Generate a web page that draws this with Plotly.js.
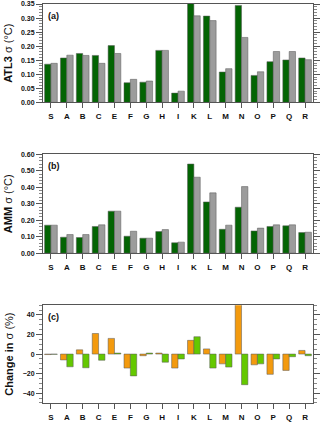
<!DOCTYPE html>
<html>
<head>
<meta charset="utf-8">
<script src="https://cdn.plot.ly/plotly-3.0.1.min.js"></script>
<style>
  html, body { margin: 0; padding: 0; background: #fff; }
  #chart { width: 320px; height: 423px; }
</style>
</head>
<body>
<div id="chart"></div>
<script>
const categories = ["S", "A", "B", "C", "E", "F", "G", "H", "I", "K", "L", "M", "N", "O", "P", "Q", "R"];

// (a) ATL3 sigma
const atl3First = [0.136, 0.158, 0.174, 0.167, 0.202, 0.070, 0.072, 0.185, 0.033, 0.36, 0.307, 0.108, 0.345, 0.096, 0.145, 0.151, 0.158];
const atl3Second = [0.139, 0.168, 0.167, 0.139, 0.174, 0.082, 0.076, 0.185, 0.040, 0.308, 0.291, 0.120, 0.231, 0.109, 0.181, 0.181, 0.152];

// (b) AMM sigma
const ammFirst = [0.170, 0.097, 0.095, 0.162, 0.255, 0.103, 0.091, 0.131, 0.063, 0.541, 0.311, 0.145, 0.279, 0.135, 0.162, 0.166, 0.125];
const ammSecond = [0.170, 0.113, 0.113, 0.172, 0.255, 0.133, 0.091, 0.143, 0.067, 0.461, 0.366, 0.170, 0.404, 0.152, 0.172, 0.172, 0.127];

// (c) change in sigma (%)
const changeATL3 = [-0.5, -6, 4.3, 21, 16, -14.3, -1.7, 1, -14.3, 14, 5.3, -10, 53, -11, -20.7, -16.7, 3.7];
const changeAMM = [-0.3, -13, -14, -6.3, 1, -22.3, 1, -8.3, -5, 17.7, -14.3, -13.3, -31.3, -10, -5, -2.7, -1.7];

const FONT = "Liberation Sans, Arial, Helvetica, sans-serif";
const AXIS = "#555555";
const barLine = { color: "rgba(90,90,90,0.75)", width: 0.7 };

function bars(y, color, xa, ya) {
  return {
    x: categories,
    y,
    type: "bar",
    xaxis: xa,
    yaxis: ya,
    marker: { color, line: barLine },
    showlegend: false,
    hoverinfo: "x+y",
  };
}

const traces = [
  bars(atl3First, "#036403", "x", "y"),
  bars(atl3Second, "#9c9c9c", "x", "y"),
  bars(ammFirst, "#036403", "x2", "y2"),
  bars(ammSecond, "#9c9c9c", "x2", "y2"),
  bars(changeATL3, "#f39a0e", "x3", "y3"),
  bars(changeAMM, "#64c800", "x3", "y3"),
];

function xAxis(anchor) {
  return {
    anchor,
    type: "category",
    range: [-0.5, 16.5],
    showline: true,
    linecolor: AXIS,
    linewidth: 1,
    mirror: true,
    ticks: "outside",
    ticklen: 5,
    tickcolor: AXIS,
    tickfont: { family: FONT, size: 8, color: "#111", weight: "bold" },
    ticklabelstandoff: 1,
    showgrid: false,
    fixedrange: true,
  };
}

function yAxis(anchor, domain, range, dtick, minor, fmt, title) {
  return {
    anchor,
    domain,
    range,
    dtick,
    tick0: 0,
    tickformat: fmt,
    showline: true,
    linecolor: AXIS,
    linewidth: 1,
    mirror: "ticks",
    ticks: "outside",
    ticklen: 6,
    tickcolor: AXIS,
    tickfont: { family: FONT, size: 7, color: "#111", weight: "bold" },
    minor: { dtick: minor, tick0: 0, ticks: "outside", ticklen: 3, tickcolor: "#888", showgrid: false },
    showgrid: false,
    zeroline: false,
    fixedrange: true,
    title: { text: title, font: { family: FONT, size: 11, color: "#111" }, standoff: 6 },
  };
}

const layout = {
  width: 320,
  height: 423,
  paper_bgcolor: "#fff",
  plot_bgcolor: "#fff",
  font: { family: FONT, color: "#111" },
  margin: { l: 43, r: 7, t: 3.5, b: 20 },
  barmode: "group",
  bargap: 0.2,
  bargroupgap: 0,
  xaxis: xAxis("y"),
  xaxis2: xAxis("y2"),
  xaxis3: xAxis("y3"),
  yaxis: yAxis("x", [0.7534, 1], [0, 0.35], 0.05, 0.01, ".2f", "<b>ATL3 </b>σ (°C)"),
  yaxis2: yAxis("x2", [0.3755, 0.6233], [0, 0.6], 0.1, 0.02, ".2f", "<b>AMM </b>σ (°C)"),
  yaxis3: yAxis("x3", [0, 0.2453], [-50, 50], 20, 5, "d", "<b>Change in </b>σ (%)"),
  annotations: [
    ["(a)", "x", "y"],
    ["(b)", "x2", "y2"],
    ["(c)", "x3", "y3"],
  ].map(([t, xa, ya]) => ({
    text: "<b>" + t + "</b>",
    xref: xa + " domain",
    yref: ya + " domain",
    x: 0.01,
    y: 0.95,
    xanchor: "left",
    yanchor: "top",
    showarrow: false,
    font: { family: FONT, size: 9, color: "#111" },
  })),
};

Plotly.newPlot("chart", traces, layout, { displayModeBar: false, staticPlot: true });
</script>
</body>
</html>
